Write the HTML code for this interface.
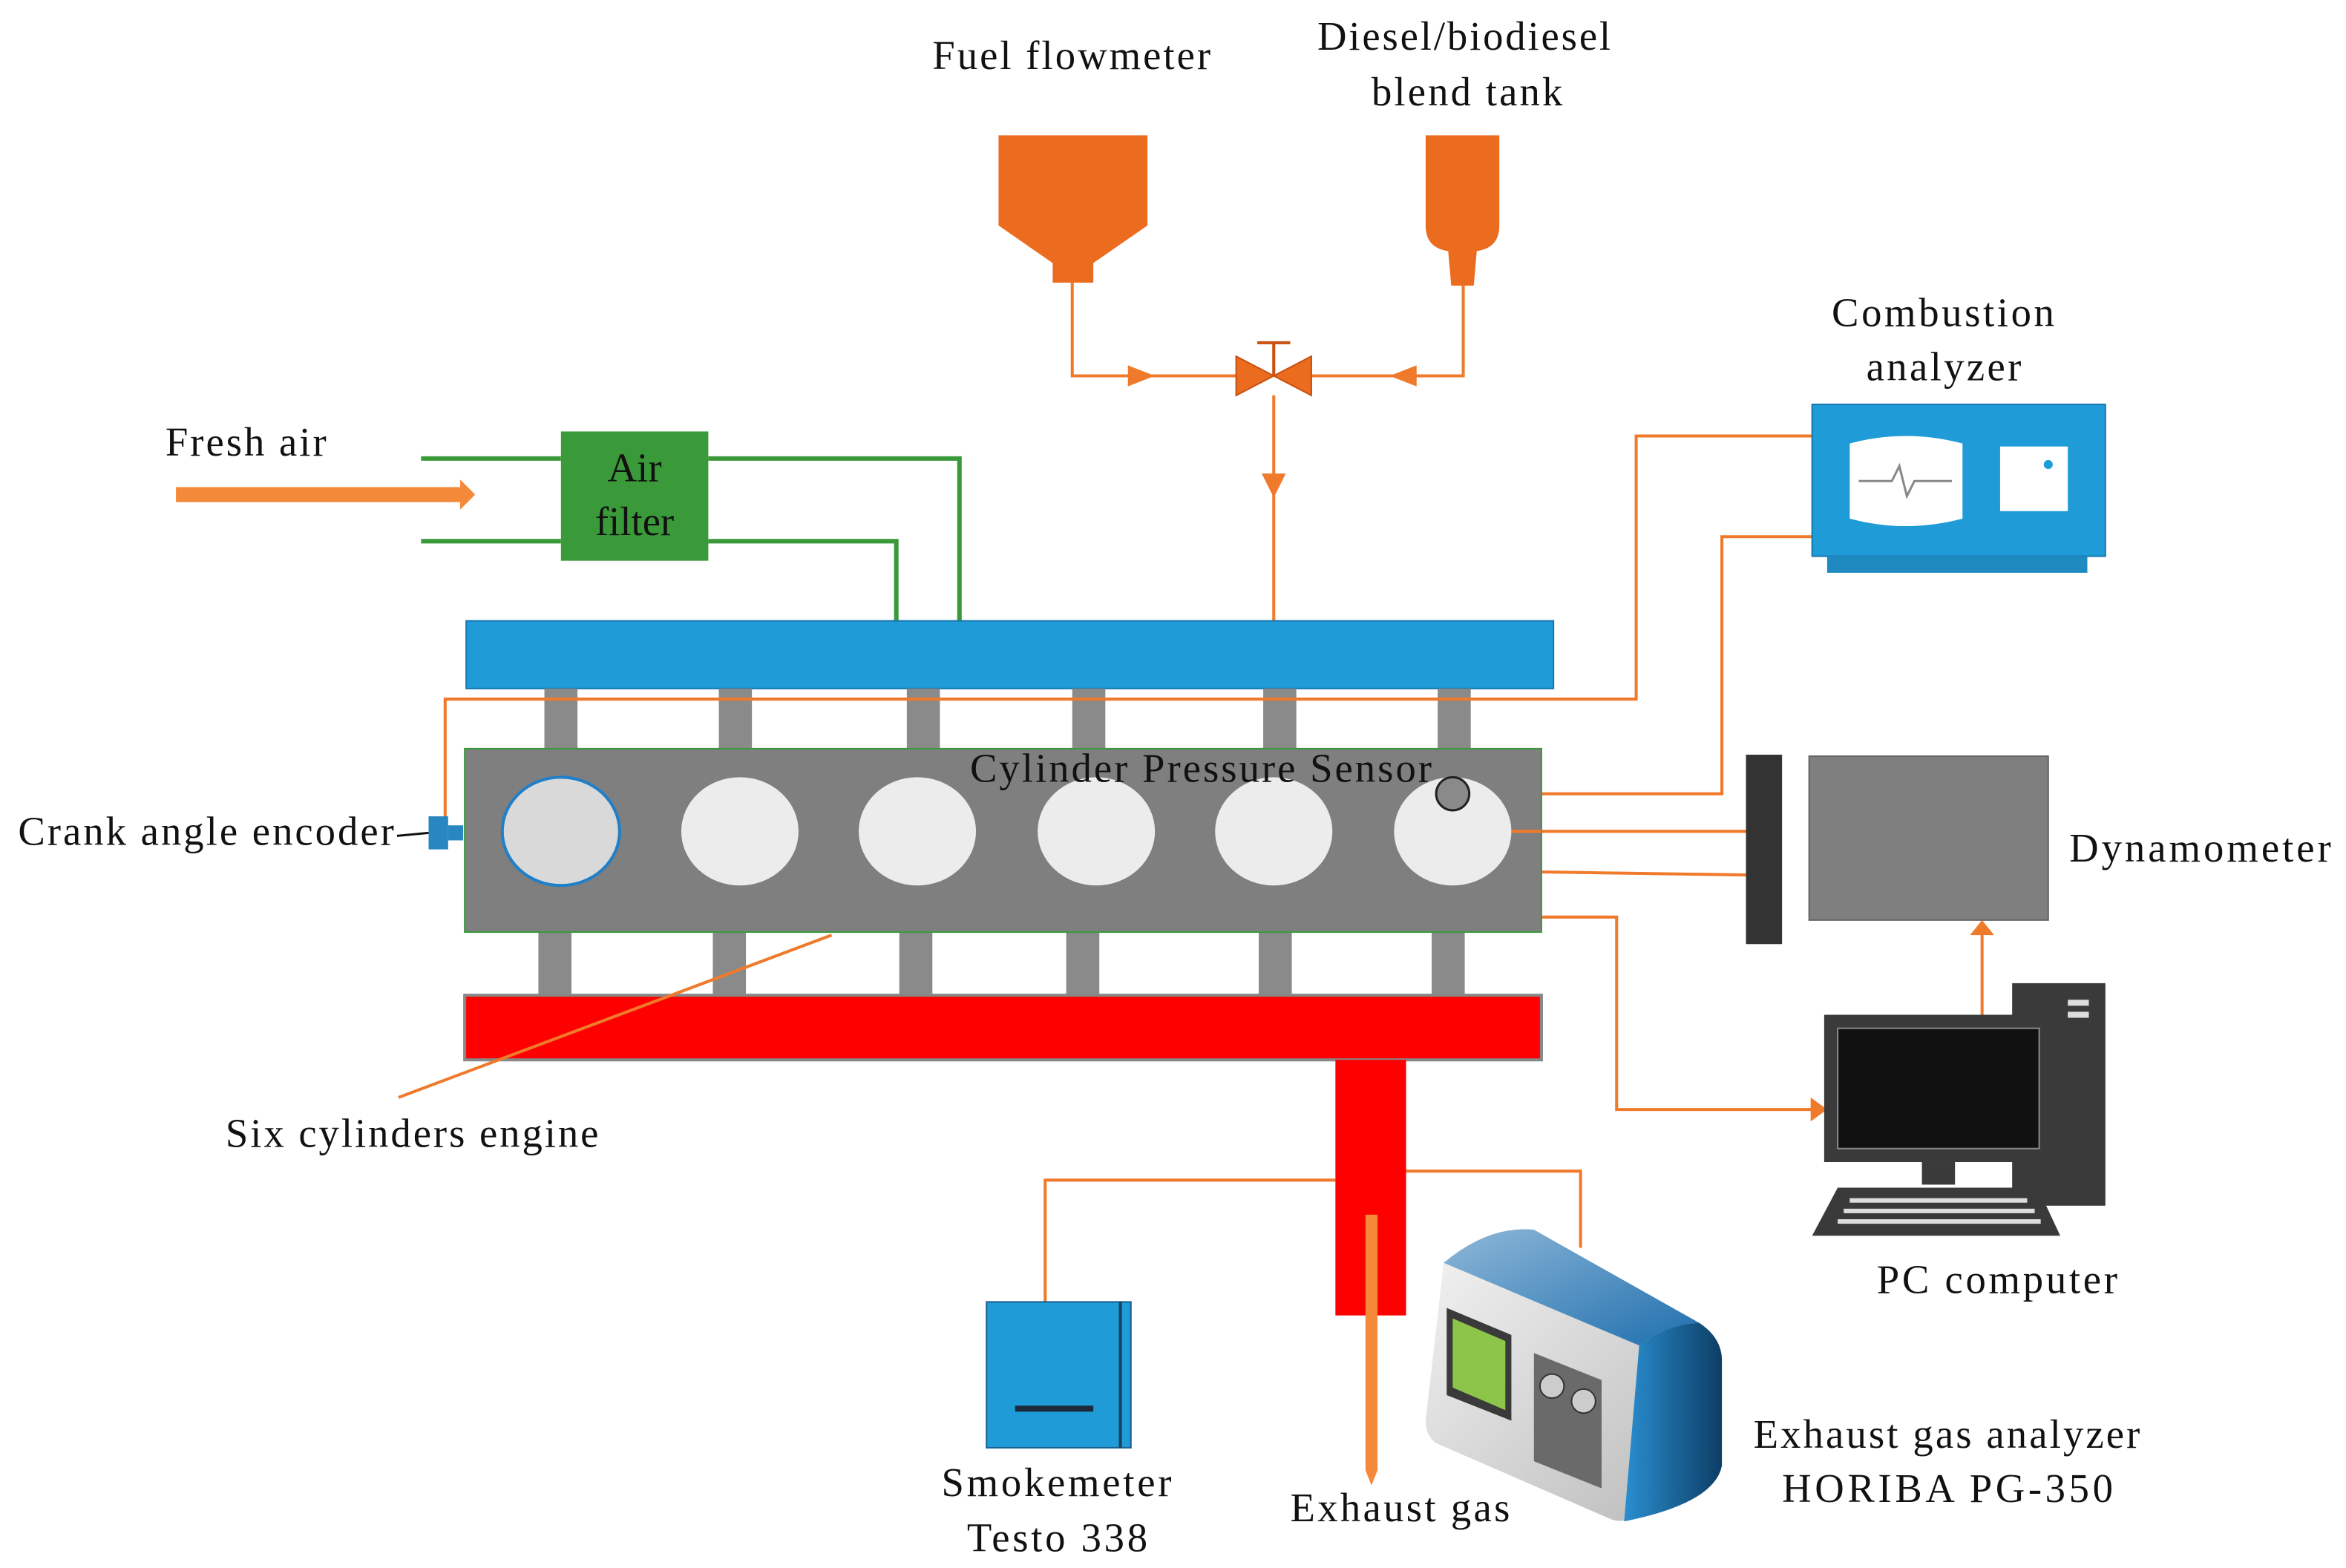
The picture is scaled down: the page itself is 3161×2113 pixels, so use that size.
<!DOCTYPE html>
<html><head><meta charset="utf-8"><style>
html,body{margin:0;padding:0;background:#fff;}
svg{display:block;}
text{font-family:"Liberation Serif",serif;font-size:27px;fill:#111;}
</style></head><body>
<svg width="3161" height="2113" viewBox="0 0 1560 1043" preserveAspectRatio="none" xmlns="http://www.w3.org/2000/svg">
<defs>
<linearGradient id="box" x1="0" y1="0" x2="1" y2="1"><stop offset="0" stop-color="#f4f4f4"/><stop offset="1" stop-color="#b8b8b8"/></linearGradient>
<linearGradient id="side" x1="0" y1="0" x2="1" y2="0"><stop offset="0" stop-color="#2a8fd0"/><stop offset="1" stop-color="#0d3d66"/></linearGradient>
<linearGradient id="top" x1="0" y1="0" x2="1" y2="1"><stop offset="0" stop-color="#8fb8d8"/><stop offset="1" stop-color="#1f6fae"/></linearGradient>
</defs>
<g stroke="#f07a2c" stroke-width="2" fill="none">
<polyline points="713,188 713,250 822,250"/>
<polyline points="973,190 973,250 872,250"/>
<line x1="847" y1="263" x2="847" y2="413"/>
<polyline points="296,545 296,465 1088,465 1088,290 1205,290"/>
<polyline points="978,528 1145,528 1145,357 1205,357"/>
<line x1="1005" y1="553" x2="1161" y2="553"/>
<line x1="1025" y1="580" x2="1161" y2="582"/>
<polyline points="1025,610 1075,610 1075,738 1208,738"/>
<line x1="1318" y1="675" x2="1318" y2="618"/>
<polyline points="888,785 695,785 695,866"/>
<polyline points="935,779 1051,779 1051,830"/>
</g>
<path d="M750,243 L768,250 L750,257 Z" fill="#f07a2c"/>
<path d="M942,243 L924,250 L942,257 Z" fill="#f07a2c"/>
<path d="M839,315 L847,331 L855,315 Z" fill="#f07a2c"/>
<path d="M1204,730 L1215,738 L1204,746 Z" fill="#f07a2c"/>
<path d="M1310,622 L1318,612 L1326,622 Z" fill="#f07a2c"/>
<path d="M664,90 H763 V150 L727,175 V188 H700 V175 L664,150 Z" fill="#ec6c1f"/>
<path d="M948,90 H997 V150 Q997,165 982,167 L980,190 H965 L963,167 Q948,165 948,150 Z" fill="#ec6c1f"/>
<path d="M822,237 L847,250 L822,263 Z M872,237 L847,250 L872,263 Z" fill="#ec6c1f" stroke="#c85010"/>
<line x1="847" y1="228" x2="847" y2="250" stroke="#c85010" stroke-width="2"/>
<line x1="836" y1="228" x2="858" y2="228" stroke="#c85010" stroke-width="2"/>
<text x="620" y="46" textLength="185" lengthAdjust="spacing">Fuel flowmeter</text>
<text x="876" y="33" textLength="195" lengthAdjust="spacing">Diesel/biodiesel</text>
<text x="912" y="70" textLength="127" lengthAdjust="spacing">blend tank</text>
<text x="110" y="303" textLength="107" lengthAdjust="spacing">Fresh air</text>
<path d="M117,324 H306 V319 L316,329 L306,339 V334 H117 Z" fill="#f5893a"/>
<g stroke="#3a9a3a" stroke-width="3" fill="none">
<line x1="280" y1="305" x2="373" y2="305"/><line x1="280" y1="360" x2="373" y2="360"/>
<polyline points="471,305 638,305 638,413"/><polyline points="471,360 596,360 596,413"/>
</g>
<rect x="373" y="287" width="98" height="86" fill="#3a9a3a"/>
<text x="422" y="320" text-anchor="middle">Air</text>
<text x="422" y="356" text-anchor="middle">filter</text>
<rect x="310" y="413" width="723" height="45" fill="#1f9bd7" stroke="#1578b0"/>
<g fill="#8a8a8a">
<rect x="362" y="458" width="22" height="42"/><rect x="478" y="458" width="22" height="42"/><rect x="603" y="458" width="22" height="42"/><rect x="713" y="458" width="22" height="42"/><rect x="840" y="458" width="22" height="42"/><rect x="956" y="458" width="22" height="42"/>
<rect x="358" y="620" width="22" height="42"/><rect x="474" y="620" width="22" height="42"/><rect x="598" y="620" width="22" height="42"/><rect x="709" y="620" width="22" height="42"/><rect x="837" y="620" width="22" height="42"/><rect x="952" y="620" width="22" height="42"/>
</g>
<line x1="296" y1="465" x2="1088" y2="465" stroke="#f07a2c" stroke-width="2"/>
<rect x="309" y="498" width="716" height="122" fill="#7f7f7f" stroke="#3a9a3a" stroke-width="1"/>
<ellipse cx="373" cy="553" rx="39" ry="36" fill="#d9d9d9" stroke="#1f7fc8" stroke-width="2"/>
<g fill="#ececec"><ellipse cx="492" cy="553" rx="39" ry="36"/><ellipse cx="610" cy="553" rx="39" ry="36"/><ellipse cx="729" cy="553" rx="39" ry="36"/><ellipse cx="847" cy="553" rx="39" ry="36"/><ellipse cx="966" cy="553" rx="39" ry="36"/></g>
<text x="645" y="520" textLength="307" lengthAdjust="spacing">Cylinder Pressure Sensor</text>
<circle cx="966" cy="528" r="11" fill="#8a8a8a" stroke="#222" stroke-width="1.5"/>
<line x1="1005" y1="553" x2="1025" y2="553" stroke="#f07a2c" stroke-width="2"/>
<rect x="285" y="543" width="13" height="22" fill="#2a86c0"/>
<rect x="298" y="549" width="10" height="10" fill="#2a86c0"/>
<text x="12" y="562" textLength="250" lengthAdjust="spacing">Crank angle encoder</text>
<line x1="264" y1="556" x2="285" y2="554" stroke="#111" stroke-width="1.5"/>
<rect x="309" y="662" width="716" height="43" fill="#fe0000" stroke="#888" stroke-width="2"/>
<line x1="265" y1="730" x2="553" y2="622" stroke="#f07a2c" stroke-width="2"/>
<rect x="888" y="705" width="47" height="170" fill="#fe0000"/>
<path d="M908,808 H916 V978 L912,988 L908,978 Z" fill="#f5893a"/>
<text x="858" y="1012" textLength="146" lengthAdjust="spacing">Exhaust gas</text>
<text x="150" y="763" textLength="248" lengthAdjust="spacing">Six cylinders engine</text>
<rect x="656" y="866" width="96" height="97" fill="#1f9bd7" stroke="#1a5f90"/>
<line x1="745" y1="866" x2="745" y2="963" stroke="#1a3f60" stroke-width="2"/>
<rect x="675" y="935" width="52" height="4" fill="#1a2a3a"/>
<text x="626" y="995" textLength="153" lengthAdjust="spacing">Smokemeter</text>
<text x="643" y="1032" textLength="120" lengthAdjust="spacing">Testo 338</text>
<path d="M960,840 Q990,815 1020,818 L1130,880 Q1145,890 1145,905 L1095,1005 Q1080,1015 1070,1010 L955,960 Q948,955 948,945 Z" fill="url(#box)"/>
<path d="M960,840 Q990,815 1020,818 L1130,880 Q1110,880 1090,895 Z" fill="url(#top)"/>
<path d="M1090,895 Q1110,880 1130,880 Q1145,890 1145,905 V975 Q1140,1000 1080,1012 Z" fill="url(#side)"/>
<path d="M962,870 L1005,888 V945 L962,928 Z" fill="#3a3a3a"/>
<path d="M966,877 L1001,892 V938 L966,923 Z" fill="#8dc54a"/>
<path d="M1020,900 L1065,918 V990 L1020,972 Z" fill="#6a6a6a"/>
<circle cx="1032" cy="922" r="8" fill="#ccc" stroke="#333"/><circle cx="1053" cy="932" r="8" fill="#ccc" stroke="#333"/>
<text x="1166" y="963" textLength="257" lengthAdjust="spacing">Exhaust gas analyzer</text>
<text x="1185" y="999" textLength="220" lengthAdjust="spacing">HORIBA PG-350</text>
<rect x="1205" y="269" width="195" height="101" fill="#1f9bd7" stroke="#1578b0"/>
<rect x="1215" y="370" width="173" height="11" fill="#1f8ac0"/>
<path d="M1230,295 Q1267,285 1305,295 V345 Q1267,355 1230,345 Z" fill="#fff"/>
<polyline points="1236,320 1258,320 1263,310 1268,330 1273,320 1298,320" fill="none" stroke="#888" stroke-width="1.5"/>
<rect x="1330" y="297" width="45" height="43" fill="#fff"/>
<circle cx="1362" cy="309" r="3" fill="#1f9bd7"/>
<text x="1218" y="217" textLength="148" lengthAdjust="spacing">Combustion</text>
<text x="1241" y="253" textLength="103" lengthAdjust="spacing">analyzer</text>
<rect x="1161" y="502" width="24" height="126" fill="#333"/>
<rect x="1203" y="503" width="159" height="109" fill="#7f7f7f" stroke="#666"/>
<text x="1376" y="573" textLength="174" lengthAdjust="spacing">Dynamometer</text>
<rect x="1338" y="654" width="62" height="148" fill="#3a3a3a"/>
<rect x="1375" y="665" width="14" height="4" fill="#ddd"/><rect x="1375" y="673" width="14" height="4" fill="#ddd"/>
<rect x="1213" y="675" width="152" height="98" fill="#3a3a3a"/>
<rect x="1222" y="684" width="134" height="80" fill="#111" stroke="#888"/>
<rect x="1278" y="773" width="22" height="15" fill="#3a3a3a"/>
<path d="M1222,790 H1355 L1370,822 H1205 Z" fill="#3a3a3a"/>
<g fill="#ddd"><rect x="1230" y="797" width="118" height="3"/><rect x="1226" y="804" width="127" height="3"/><rect x="1222" y="811" width="135" height="3"/></g>
<text x="1248" y="860" textLength="160" lengthAdjust="spacing">PC computer</text>
</svg>
</body></html>
